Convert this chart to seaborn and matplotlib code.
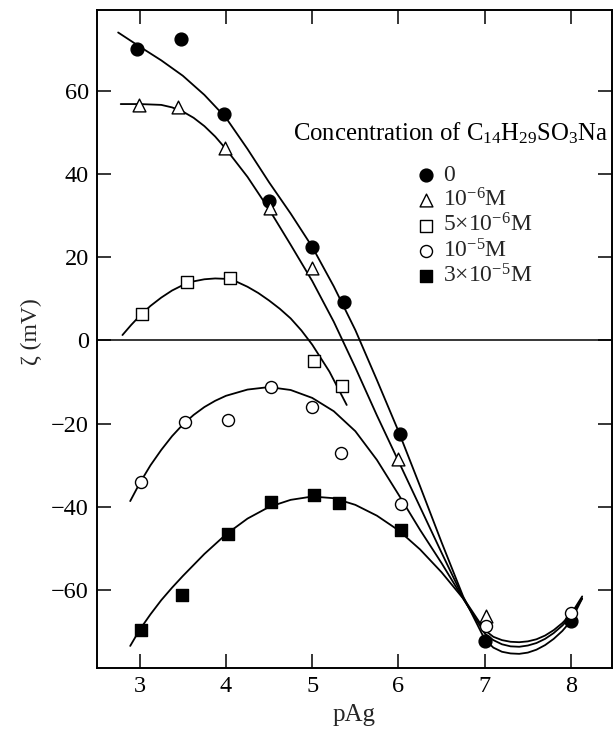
import numpy as np
import pandas as pd
import matplotlib
matplotlib.use("Agg")
import matplotlib.pyplot as plt
import seaborn as sns

# ---------------- data ----------------
# measured points
x_c0 = [2.97, 3.48, 3.98, 4.50, 5.00, 5.37, 6.02, 7.00, 8.00]
y_c0 = [70.0, 72.5, 54.5, 33.5, 22.5, 9.3, -22.5, -72.3, -67.5]

x_c1 = [2.99, 3.44, 3.99, 4.51, 5.00, 6.00, 7.01]
y_c1 = [56.5, 56.2, 46.2, 31.8, 17.3, -28.5, -66.3]

x_c2 = [3.03, 3.55, 4.05, 5.02, 5.34]
y_c2 = [6.3, 14.1, 15.1, -5.0, -10.9]

x_c3 = [3.01, 3.53, 4.02, 4.52, 5.00, 5.33, 6.03, 7.01, 8.00]
y_c3 = [-33.9, -19.7, -19.2, -11.1, -16.0, -27.0, -39.2, -68.6, -65.4]

x_c4 = [3.02, 3.49, 4.02, 4.52, 5.02, 5.31, 6.03]
y_c4 = [-69.6, -61.2, -46.6, -38.9, -37.1, -39.1, -45.6]

# hand-drawn fitted curves
fx0 = [2.75, 3.0, 3.25, 3.5, 3.75, 4.0, 4.25, 4.5, 4.75, 5.0, 5.25, 5.5, 5.75, 6.0,
       6.25, 6.5, 6.75, 7.0, 7.1, 7.2, 7.3, 7.4, 7.5, 7.6, 7.7, 7.8, 7.9, 8.0, 8.13]
fy0 = [74.0, 70.6, 67.3, 63.6, 59.0, 53.5, 46.0, 38.0, 30.5, 22.5, 13.0, 2.5, -9.5, -21.8,
       -35.0, -48.5, -61.5, -71.8, -73.8, -74.8, -75.2, -75.3, -75.0, -74.3, -73.2, -71.7,
       -69.8, -67.4, -62.0]

fx1 = [2.78, 3.0, 3.25, 3.375, 3.5, 3.625, 3.75, 3.875, 4.0, 4.25, 4.5, 4.75, 5.0, 5.25,
       5.5, 5.75, 6.0, 6.25, 6.5, 6.75, 7.0, 7.1, 7.2, 7.3, 7.4, 7.5, 7.6, 7.7, 7.8, 7.9,
       8.0, 8.13]
fy1 = [56.8, 56.8, 56.6, 56.0, 55.0, 53.5, 51.5, 49.0, 46.0, 39.3, 31.5, 23.0, 14.3, 4.5,
       -6.5, -18.0, -29.0, -40.0, -51.0, -61.8, -69.6, -71.2, -72.0, -72.4, -72.5, -72.3,
       -71.8, -70.9, -69.6, -67.9, -65.8, -61.5]

fx2 = [2.80, 2.9, 3.0, 3.125, 3.25, 3.375, 3.5, 3.625, 3.75, 3.875, 4.0, 4.125, 4.25,
       4.375, 4.5, 4.625, 4.75, 4.875, 5.0, 5.2, 5.4]
fy2 = [1.3, 3.7, 5.9, 8.3, 10.3, 12.0, 13.3, 14.2, 14.7, 14.9, 14.8, 14.1, 12.9,
       11.4, 9.6, 7.6, 5.3, 2.4, -1.0, -7.5, -15.5]

fx3 = [2.89, 3.0, 3.125, 3.25, 3.375, 3.5, 3.625, 3.75, 3.875, 4.0, 4.25, 4.5, 4.75, 5.0,
       5.25, 5.5, 5.75, 6.0, 6.25, 6.5, 6.75, 7.0, 7.1, 7.2, 7.3, 7.4, 7.5, 7.6, 7.7, 7.8,
       7.9, 8.0, 8.13]
fy3 = [-38.6, -34.3, -30.0, -26.3, -23.0, -20.2, -17.9, -16.0, -14.5, -13.3, -11.8, -11.2,
       -11.9, -13.8, -17.0, -21.8, -28.7, -37.0, -45.5, -53.5, -62.0, -70.4, -72.0, -73.0,
       -73.5, -73.6, -73.3, -72.7, -71.7, -70.3, -68.5, -66.3, -62.0]

fx4 = [2.89, 3.0, 3.125, 3.25, 3.375, 3.5, 3.75, 4.0, 4.25, 4.5, 4.75, 5.0, 5.25, 5.5,
       5.75, 6.0, 6.25, 6.5, 6.75, 6.85]
fy4 = [-73.4, -69.5, -65.8, -62.4, -59.4, -56.6, -51.3, -46.6, -42.8, -40.0, -38.3, -37.5,
       -37.9, -39.5, -42.1, -45.6, -50.2, -55.7, -62.0, -65.3]

labels = ["0", r"10$^{-6}$M", r"5$\times$10$^{-6}$M", r"10$^{-5}$M", r"3$\times$10$^{-5}$M"]
legend_title = r"Concentration of C$_{14}$H$_{29}$SO$_{3}$Na"
xticks = [3, 4, 5, 6, 7, 8]
yticks = [-60, -40, -20, 0, 20, 40, 60]

# ---------------- style ----------------
sns.set_theme(style="ticks")
plt.rcParams["font.family"] = ["Liberation Serif", "DejaVu Serif"]
plt.rcParams["mathtext.fontset"] = "custom"
plt.rcParams["mathtext.rm"] = "Liberation Serif"
plt.rcParams["mathtext.it"] = "Liberation Serif:italic"
plt.rcParams["mathtext.bf"] = "Liberation Serif:bold"
plt.rcParams["axes.unicode_minus"] = True

fig = plt.figure(figsize=(6.13, 7.29), dpi=100)
ax = fig.add_axes([97 / 613, 61 / 729, 514.5 / 613, 658 / 729])

lw = 1.3
for fx, fy in [(fx0, fy0), (fx1, fy1), (fx2, fy2), (fx3, fy3), (fx4, fy4)]:
    sns.lineplot(x=fx, y=fy, ax=ax, color="black", linewidth=lw, sort=False,
                 estimator=None)

ax.axhline(0, color="black", linewidth=1.1)

mk = dict(linewidth=1.0, zorder=5)
sns.scatterplot(x=x_c0, y=y_c0, ax=ax, marker="o", s=85, facecolor="black",
                edgecolor="black", label=labels[0], **mk)
sns.scatterplot(x=x_c1, y=y_c1, ax=ax, marker="^", s=85, facecolor="white",
                edgecolor="black", label=labels[1], **mk)
sns.scatterplot(x=x_c2, y=y_c2, ax=ax, marker="s", s=72, facecolor="white",
                edgecolor="black", label=labels[2], **mk)
sns.scatterplot(x=x_c3, y=y_c3, ax=ax, marker="o", s=75, facecolor="white",
                edgecolor="black", label=labels[3], **mk)
sns.scatterplot(x=x_c4, y=y_c4, ax=ax, marker="s", s=72, facecolor="black",
                edgecolor="black", label=labels[4], **mk)

ax.set_xlim(2.505, 8.47)
ax.set_ylim(-78.7, 79.4)
ax.set_xticks(xticks)
ax.set_yticks(yticks)
ax.set_xticklabels([str(t) for t in xticks])
ax.set_yticklabels([str(t).replace("-", "\u2212") for t in yticks])

for s in ax.spines.values():
    s.set_linewidth(1.4)
    s.set_color("black")
    s.set_visible(True)

ax.tick_params(axis="both", which="major", direction="in", length=10, width=1.1,
               labelsize=17.5, colors="black", top=True, right=True, pad=6)
ax.tick_params(axis="x", pad=6)

ax.set_xlabel("pAg", fontsize=18, labelpad=5)
ax.set_ylabel("\u03b6 (mV)", fontsize=17)
ax.yaxis.set_label_coords(-0.107, 0.511)

ax.text(0.381, 0.813, legend_title, transform=ax.transAxes, fontsize=17.8,
        ha="left", va="center", color="black")

leg = ax.legend(loc="upper left", bbox_to_anchor=(0.6215, 0.765), frameon=False,
                fontsize=17, handlelength=0.8, handletextpad=0.3,
                labelspacing=0.09, borderpad=0, borderaxespad=0)

fig.savefig("out.png", dpi=100)
